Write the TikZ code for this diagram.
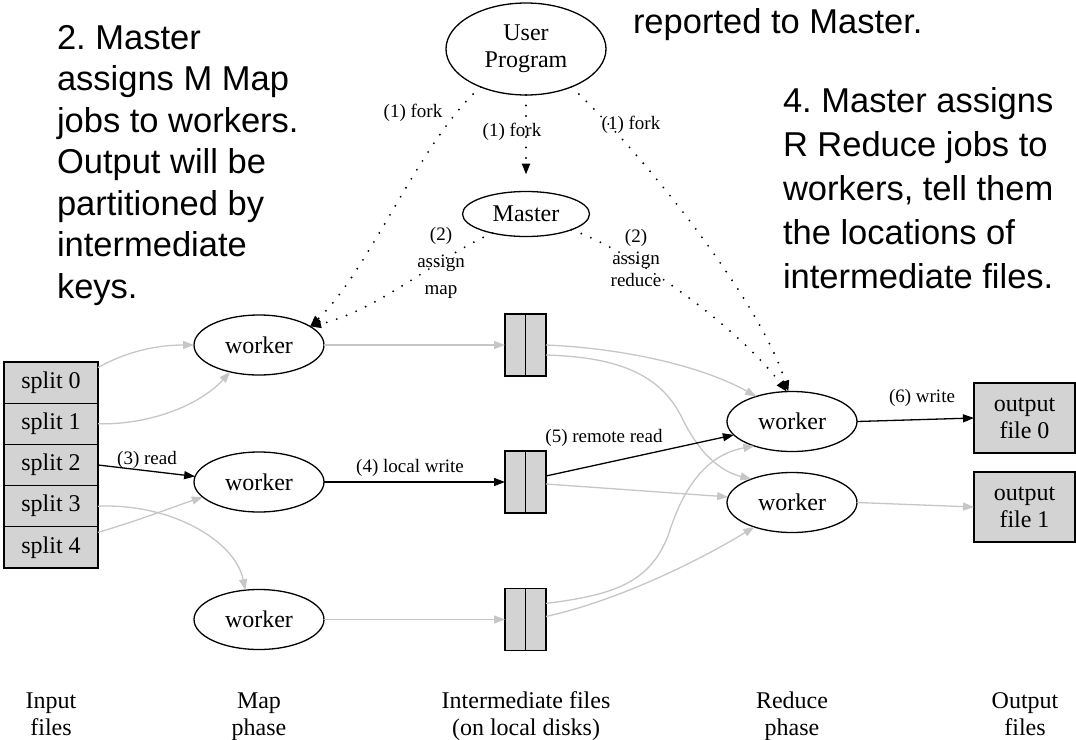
\documentclass[tikz,border=0pt]{standalone}
\usepackage{fontspec}
\setmainfont{Liberation Serif}
\newfontfamily\notefont{Liberation Sans}
\usetikzlibrary{arrows.meta,shapes.geometric}
\definecolor{boxfill}{HTML}{D3D3D3}
\definecolor{flowgray}{HTML}{C6C6C6}
\frenchspacing
\begin{document}
\begin{tikzpicture}[x=1pt,y=-1pt,
  every node/.style={inner sep=0pt, outer sep=0pt},
  lbl/.style={font=\fontsize{24}{27}\selectfont, align=center},
  elbl/.style={font=\fontsize{19}{22}\selectfont, align=center},
  notetext/.style={font=\notefont\fontsize{34.5}{41.5}\selectfont, align=left, anchor=base west},
  worker/.style={draw, ellipse, line width=1.3pt, minimum width=130pt, minimum height=60pt, lbl},
  splitcell/.style={draw, rectangle, fill=boxfill, line width=1.3pt, minimum width=94pt, minimum height=41.2pt, lbl},
  diskbox/.style={draw, rectangle, fill=boxfill, line width=1.3pt, minimum width=41pt, minimum height=62pt},
  outbox/.style={draw, rectangle, fill=boxfill, line width=1.3pt, minimum width=101pt, minimum height=70pt, lbl},
  headed/.style={-{Triangle[length=11pt,width=8pt]}},
  flow/.style={headed, line width=1.3pt},
  faint/.style={flow, draw=flowgray},
  ctrl/.style={headed, line width=2.1pt, dash pattern=on 0pt off 10.5pt, line cap=round},
]
\useasboundingbox (0,0) rectangle (1076,739);

% side notes (anchored at the baseline of their last line)
\node[notetext] (notereport) at (633,33) {reported to Master.};
\node[notetext] (notemap) at (57,298) {2. Master\\assigns M Map\\jobs to workers.\\Output will be\\partitioned by\\intermediate\\keys.};
\node[notetext, font=\notefont\fontsize{34.5}{44}\selectfont] (notered) at (783,288) {4. Master assigns\\R Reduce jobs to\\workers, tell them\\the locations of\\intermediate files.};

% user program and master
\node[draw, ellipse, line width=1.3pt, minimum width=160pt, minimum height=92pt, lbl] (user) at (526,49) {User\\Program};
\node[draw, ellipse, line width=1.3pt, minimum width=127pt, minimum height=45pt, lbl] (master) at (526,214) {Master};

% input splits
\node[splitcell] (s0) at (51,382.6) {split 0};
\node[splitcell] (s1) at (51,423.8) {split 1};
\node[splitcell] (s2) at (51,465.0) {split 2};
\node[splitcell] (s3) at (51,506.2) {split 3};
\node[splitcell] (s4) at (51,547.4) {split 4};

% map workers
\node[worker] (w1) at (259,345) {worker};
\node[worker] (w2) at (259,482) {worker};
\node[worker] (w3) at (259,619.5) {worker};

% intermediate files on local disks
\node[diskbox] (d1) at (525.5,345) {};
\node[diskbox] (d2) at (525.5,482) {};
\node[diskbox] (d3) at (525.5,619.5) {};
\foreach \d in {d1,d2,d3} \draw[line width=1.3pt] (\d.north) -- (\d.south);

% reduce workers
\node[worker] (r1) at (792,421.5) {worker};
\node[worker] (r2) at (792,502.5) {worker};

% output files
\node[outbox] (o0) at (1024.5,418) {output\\file 0};
\node[outbox] (o1) at (1024.5,507) {output\\file 1};

% phase captions (anchored at the baseline of the second line)
\node[lbl, anchor=base] (capin) at (51,735) {Input\\files};
\node[lbl, anchor=base] (capmap) at (259,735) {Map\\phase};
\node[lbl, anchor=base] (capmid) at (526,735) {Intermediate files\\(on local disks)};
\node[lbl, anchor=base] (capred) at (792,735) {Reduce\\phase};
\node[lbl, anchor=base] (capout) at (1025,735) {Output\\files};

% splits to map workers
\draw[faint] ([yshift=15pt]s0.east) .. controls (120,355) and (150,345) .. (w1.west);
\draw[faint] (s1.east) .. controls (150,425) and (200,405) .. (w1.223);
\draw[flow] (s2.east) -- (w2.175);
\draw[faint] (s3.east) .. controls (170,503) and (235,540) .. (w3.115);
\draw[faint] ([yshift=15pt]s4.east) .. controls (140,520) and (170,508) .. (w2.195);

% map workers to local disks
\draw[faint] (w1.east) -- (d1.west);
\draw[flow] (w2.east) -- (d2.west);
\draw[faint] (w3.east) -- (d3.west);

% local disks to reduce workers
\draw[faint] (d1.east) .. controls (620,348) and (700,365) .. (r1.145);
\draw[faint] ([yshift=-10pt]d1.east) .. controls (610,357) and (660,370) .. (683,420) .. controls (696,446) and (715,470) .. (r2.150);
\draw[flow] ([yshift=6pt]d2.east) -- (r1.193);
\draw[faint] ([yshift=-2pt]d2.east) -- (r2.175);
\draw[faint] ([yshift=16pt]d3.east) .. controls (610,595) and (652,585) .. (670,530) .. controls (683,490) and (705,455) .. (r1.213);
\draw[faint] ([yshift=3pt]d3.east) .. controls (620,600) and (700,560) .. (r2.213);

% reduce workers to output files
\draw[flow] (r1.east) -- (o0.west);
\draw[faint] (r2.east) -- (o1.west);

% fork and assignment messages
\draw[ctrl, shorten >=17pt] (user.south) -- (master.north);
\draw[ctrl] (user.220) .. controls (420,140) and (370,270) .. (w1.20);
\draw[ctrl] (user.320) .. controls (640,150) and (760,300) .. (r1.97);
\draw[ctrl] (master.210) .. controls (440,255) and (380,310) .. (w1.20);
\draw[ctrl] (master.341) .. controls (640,255) and (740,330) .. (r1.100);

% edge labels
\node[elbl] (fork1) at (413,113) {(1) fork};
\node[elbl] (fork2) at (512,132) {(1) fork};
\node[elbl] (fork3) at (631,125) {(1) fork};
\node[elbl, font=\fontsize{19}{27}\selectfont] (amap) at (441,263) {(2)\\assign\\map};
\node[elbl, font=\fontsize{19}{22}\selectfont] (ared) at (636,258) {(2)\\assign\\reduce};
\node[elbl] (rd) at (147,460) {(3) read};
\node[elbl] (lw) at (410,468) {(4) local write};
\node[elbl] (rr) at (604,438) {(5) remote read};
\node[elbl] (wr) at (922,398) {(6) write};
\end{tikzpicture}
\end{document}
